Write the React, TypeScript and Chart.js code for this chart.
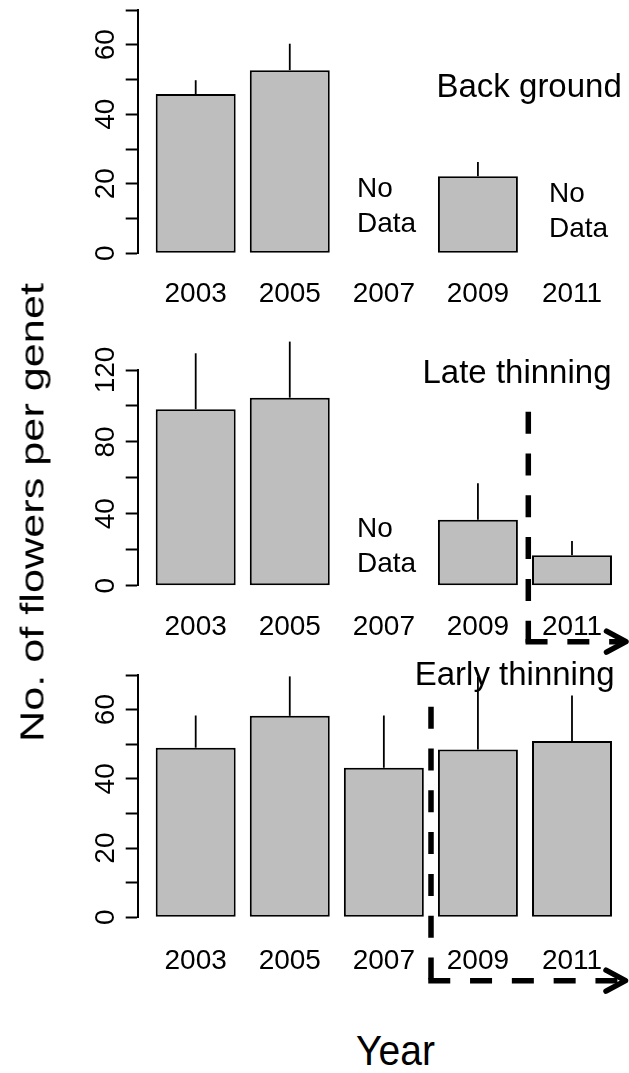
import React, { useEffect, useRef } from 'react';
import { Chart, registerables } from 'chart.js';

Chart.register(...registerables);

// ---------- data ----------
const years = ['2003', '2005', '2007', '2009', '2011'];

const backgroundMeans = [45.8, 52.7, null, 22.2, null];
const backgroundSE = [4.0, 7.6, null, 4.1, null];
const backgroundTickLabels = [0, 20, 40, 60];

const lateMeans = [98.2, 104.6, null, 36.7, 16.9];
const lateSE = [31.1, 31.2, null, 20.3, 8.0];
const lateTickLabels = [0, 40, 80, 120];

const earlyMeans = [49.0, 58.2, 43.2, 48.5, 50.9];
const earlySE = [9.3, 11.4, 15.1, 21.0, 13.2];
const earlyTickLabels = [0, 20, 40, 60];

// ---------- styles / layout ----------
const FONT = '"Liberation Sans", Arial, Helvetica, sans-serif';
const W = 629;

type Txt = { t: string; x: number; y: number; size: number };
type Arrow = { vx: number; vTop: number; cy: number; tipX: number } | null;
type PanelCfg = {
  key: string;
  means: (number | null)[];
  se: (number | null)[];
  yMax: number;
  step: number;
  yLabels: number[];
  top: number;
  height: number;
  padTop: number;
  padBottom: number;
  xPad: number;
  texts: Txt[];
  arrow: Arrow;
};

const panels: PanelCfg[] = [
  {
    key: 'bg', means: backgroundMeans, se: backgroundSE, yMax: 70, step: 10, yLabels: backgroundTickLabels,
    top: 0, height: 320, padTop: 10, padBottom: 6.7, xPad: 19.3,
    texts: [
      { t: 'Back ground', x: 436.5, y: 97.3, size: 33 },
      { t: 'No', x: 357, y: 196.7, size: 28 },
      { t: 'Data', x: 357, y: 231.7, size: 28 },
      { t: 'No', x: 549, y: 201.7, size: 28 },
      { t: 'Data', x: 549, y: 236.7, size: 28 },
    ],
    arrow: null,
  },
  {
    key: 'late', means: lateMeans, se: lateSE, yMax: 120, step: 20, yLabels: lateTickLabels,
    top: 320, height: 340, padTop: 50, padBottom: 14.3, xPad: 19.6,
    texts: [
      { t: 'Late thinning', x: 422.5, y: 383.3, size: 33 },
      { t: 'No', x: 357, y: 536.7, size: 28 },
      { t: 'Data', x: 357, y: 571.7, size: 28 },
    ],
    arrow: { vx: 528.3, vTop: 411.7, cy: 641.7, tipX: 626 },
  },
  {
    key: 'early', means: earlyMeans, se: earlySE, yMax: 70, step: 10, yLabels: earlyTickLabels,
    top: 660, height: 340, padTop: 15, padBottom: 22.7, xPad: 22,
    texts: [
      { t: 'Early thinning', x: 414.7, y: 685, size: 33 },
    ],
    arrow: { vx: 431, vTop: 706.7, cy: 980.7, tipX: 625.5 },
  },
];

function makePlugin(p: PanelCfg) {
  return {
    id: 'extras_' + p.key,
    afterDatasetsDraw(chart: any) {
      const ctx = chart.ctx as CanvasRenderingContext2D;
      const xs = chart.scales.x;
      const ys = chart.scales.y;
      ctx.save();
      ctx.strokeStyle = '#000';
      ctx.lineWidth = 1.8;
      p.means.forEach((m, i) => {
        const e = p.se[i];
        if (m == null || e == null) return;
        const x = xs.getPixelForValue(i);
        ctx.beginPath();
        ctx.moveTo(x, ys.getPixelForValue(m));
        ctx.lineTo(x, ys.getPixelForValue(m + e));
        ctx.stroke();
      });
      ctx.restore();
    },
    afterDraw(chart: any) {
      const ctx = chart.ctx as CanvasRenderingContext2D;
      const ys = chart.scales.y;
      ctx.save();
      ctx.fillStyle = '#000';
      // rotated y tick labels
      ctx.font = `28px ${FONT}`;
      ctx.textAlign = 'center';
      ctx.textBaseline = 'alphabetic';
      for (const v of p.yLabels) {
        const y = ys.getPixelForValue(v);
        ctx.save();
        ctx.translate(113.5, y);
        ctx.rotate(-Math.PI / 2);
        ctx.fillText(String(v), 0, 0);
        ctx.restore();
      }
      // annotations
      ctx.textAlign = 'left';
      for (const t of p.texts) {
        ctx.font = `${t.size}px ${FONT}`;
        ctx.fillText(t.t, t.x, t.y - p.top);
      }
      // dashed thinning marker with arrow
      if (p.arrow) {
        const a = p.arrow;
        const vTop = a.vTop - p.top;
        const cy = a.cy - p.top;
        ctx.strokeStyle = '#000';
        ctx.lineWidth = 5.5;
        ctx.lineCap = 'butt';
        ctx.setLineDash([22, 19.8]);
        ctx.beginPath();
        ctx.moveTo(a.vx, vTop);
        ctx.lineTo(a.vx, cy + 2.75);
        ctx.stroke();
        ctx.beginPath();
        ctx.moveTo(a.vx - 2.75, cy);
        ctx.lineTo(a.tipX - 3, cy);
        ctx.stroke();
        ctx.setLineDash([]);
        ctx.lineCap = 'round';
        ctx.lineJoin = 'round';
        ctx.beginPath();
        ctx.moveTo(a.tipX - 19.5, cy - 10.5);
        ctx.lineTo(a.tipX, cy);
        ctx.lineTo(a.tipX - 19.5, cy + 10.5);
        ctx.stroke();
      }
      ctx.restore();
    },
  };
}

function Panel({ p }: { p: PanelCfg }) {
  const ref = useRef<HTMLCanvasElement>(null);
  useEffect(() => {
    const chart = new Chart(ref.current as HTMLCanvasElement, {
      type: 'bar',
      data: {
        datasets: [
          {
            data: p.means.map((v, i) => ({ x: i, y: v })) as any,
            backgroundColor: '#bebebe',
            borderColor: '#000',
            borderWidth: 2,
            borderSkipped: false,
            categoryPercentage: 1,
            barPercentage: 0.85,
          } as any,
        ],
      },
      options: {
        animation: false,
        responsive: false,
        maintainAspectRatio: false,
        devicePixelRatio: 1,
        events: [],
        layout: { padding: { left: 77.7, right: 0, top: p.padTop, bottom: p.padBottom } },
        plugins: { legend: { display: false }, tooltip: { enabled: false }, title: { display: false } },
        scales: {
          x: {
            type: 'linear',
            offset: false,
            min: -0.6165,
            max: 4.606,
            grid: { display: false, offset: false },
            border: { display: false },
            afterBuildTicks: (s: any) => {
              s.ticks = years.map((_, i) => ({ value: i }));
            },
            afterFit: (s: any) => {
              s.height = 60;
              s.paddingLeft = 0;
              s.paddingRight = 0;
            },
            ticks: {
              autoSkip: false,
              maxRotation: 0,
              minRotation: 0,
              padding: p.xPad,
              color: '#000',
              font: { family: FONT, size: 28, lineHeight: 1 },
              callback: (v: any) => years[v as number] ?? '',
            },
          },
          y: {
            min: 0,
            max: p.yMax,
            afterFit: (s: any) => {
              s.width = 60;
              s.paddingTop = 0;
              s.paddingBottom = 0;
            },
            ticks: { display: false, stepSize: p.step },
            grid: {
              drawOnChartArea: false,
              drawTicks: true,
              tickLength: 12,
              tickColor: '#000',
              tickWidth: 2,
              color: '#000',
            },
            border: { display: true, color: '#000', width: 2 },
          },
        },
      } as any,
      plugins: [makePlugin(p)],
    });
    return () => chart.destroy();
  }, []);
  return (
    <canvas
      ref={ref}
      width={W}
      height={p.height}
      style={{ position: 'absolute', left: 0, top: p.top, width: W, height: p.height }}
    />
  );
}

export default function App() {
  return (
    <div style={{ position: 'absolute', left: 0, top: 0, width: W, height: 1073, background: '#fff', overflow: 'hidden' }}>
      {panels.map((p) => (
        <Panel key={p.key} p={p} />
      ))}
      <div
        style={{
          position: 'absolute',
          left: 31.6 - 250,
          top: 512 - 16.5,
          width: 500,
          height: 33,
          lineHeight: '33px',
          fontSize: 33,
          fontFamily: FONT,
          color: '#000',
          textAlign: 'center',
          whiteSpace: 'nowrap',
          transform: 'rotate(-90deg) scaleX(1.31)',
          transformOrigin: '50% 50%',
        }}
      >
        No. of flowers per genet
      </div>
      <div
        style={{
          position: 'absolute',
          left: 395.5 - 100,
          top: 1031,
          width: 200,
          height: 39,
          lineHeight: '39px',
          fontSize: 39,
          fontFamily: FONT,
          color: '#000',
          textAlign: 'center',
          whiteSpace: 'nowrap',
          transform: 'scaleY(1.07)',
          transformOrigin: '50% 50%',
        }}
      >
        Year
      </div>
    </div>
  );
}
